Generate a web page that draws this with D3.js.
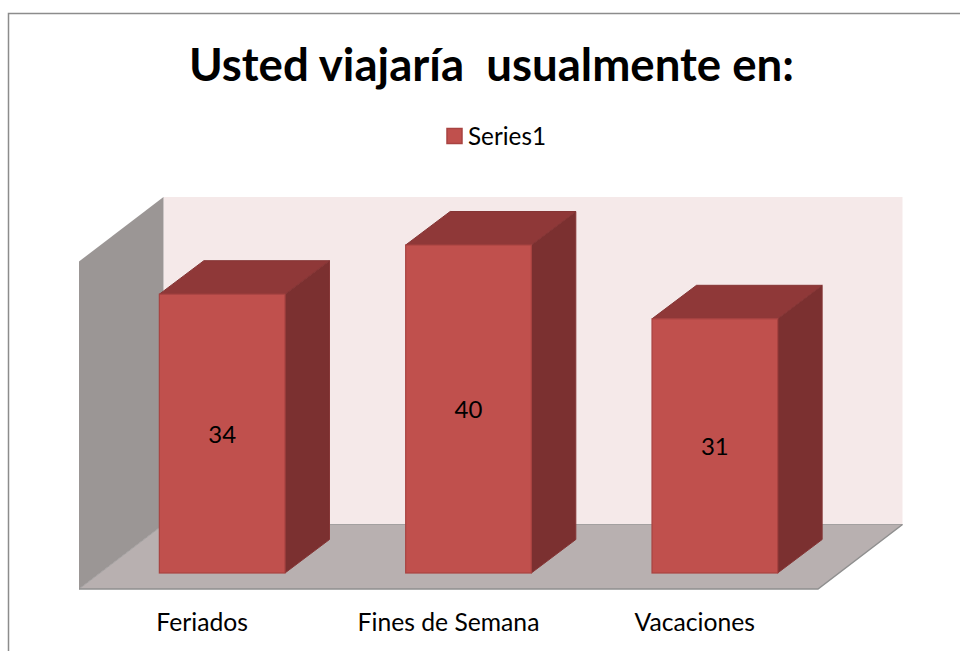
<!DOCTYPE html>
<html><head><meta charset="utf-8">
<script src="https://cdn.jsdelivr.net/npm/d3@7"></script>
<style>html,body{margin:0;padding:0;background:#fff}svg{display:block}text{font-family:Lato,"Noto Sans",sans-serif;fill:#000}</style>
</head><body><script>
const categories = ["Feriados","Fines de Semana","Vacaciones"];
const seriesName = "Series1";
const values = [34,40,31];
const titleText = "Usted viajaría  usualmente en:";

const W=960,H=651;
const svg=d3.select("body").append("svg").attr("width",W).attr("height",H);

const dx=84.5, dy=-64.5, barDx=44.5, barDy=-33.5;
const x0=79, x1=818, base=589, wallTop=197;
const axisX=d3.scaleBand().domain(categories).range([x0,x1]);
const barX=d3.scaleBand().domain(categories).range([x0+20,x1+20]).paddingInner(0.49).paddingOuter(0.245);
const bw=barX.bandwidth();
const y=d3.scaleLinear().domain([0,40]).range([573,245]);
const P=a=>a.map(p=>p.join(",")).join(" ");

// frame
svg.append("path").attr("d",`M8.5,651V13.5H960`).attr("fill","none").attr("stroke","#8c8c8c").attr("stroke-width",1.5);

// walls and floor
svg.append("polygon").attr("points",P([[x0+dx,wallTop],[x1+dx,wallTop],[x1+dx,base+dy],[x0+dx,base+dy]])).attr("fill","#f5e9e9");
svg.append("polygon").attr("points",P([[x0,wallTop-dy],[x0+dx,wallTop],[x0+dx,base+dy],[x0,base]])).attr("fill","#9b9695");
svg.append("polygon").attr("points",P([[x0,base],[x1,base],[x1+dx,base+dy],[x0+dx,base+dy]])).attr("fill","#b8b0b0");
svg.append("path").attr("d",`M${x0},${base}L${x0+dx},${base+dy}H${x1+dx}`).attr("fill","none").attr("stroke","#a3a0a0").attr("stroke-width",1);
svg.append("path").attr("d",`M${x0},${base}H${x1}L${x1+dx},${base+dy}`).attr("fill","none").attr("stroke","#8f8f8f").attr("stroke-width",1.5);

// bars
const rows=categories.map((c,i)=>({c,v:values[i]}));
const g=svg.append("g").selectAll("g").data(rows).join("g");
const L=d=>barX(d.c), R=d=>barX(d.c)+bw;
g.append("polygon").attr("points",d=>P([[R(d),y(d.v)],[R(d)+barDx,y(d.v)+barDy],[R(d)+barDx,y(0)+barDy],[R(d),y(0)]]))
 .attr("fill","#7b3030").attr("stroke","#853535").attr("stroke-width",1);
g.append("polygon").attr("points",d=>P([[L(d),y(d.v)],[L(d)+barDx,y(d.v)+barDy],[R(d)+barDx,y(d.v)+barDy],[R(d),y(d.v)]]))
 .attr("fill","#8f3838").attr("stroke","#853535").attr("stroke-width",1);
g.append("rect").attr("x",L).attr("y",d=>y(d.v)).attr("width",bw).attr("height",d=>y(0)-y(d.v))
 .attr("fill","#c0504d").attr("stroke","#a84341").attr("stroke-width",1.2);
g.append("text").attr("x",d=>L(d)+bw/2).attr("y",d=>(y(d.v)+y(0))/2+9).attr("text-anchor","middle").attr("font-size",24).text(d=>d.v);

// axis labels
svg.append("g").selectAll("text").data(categories).join("text")
 .attr("x",d=>axisX(d)+axisX.bandwidth()/2).attr("y",631).attr("text-anchor","middle").attr("font-size",24.7).text(d=>d);

// title
svg.append("text").attr("x",491.5).attr("y",81).attr("text-anchor","middle").attr("font-size",45.6).attr("font-weight",700).style("white-space","pre").text(titleText);

// legend
svg.append("rect").attr("x",447).attr("y",128.5).attr("width",15).attr("height",15).attr("fill","#c0504d").attr("stroke","#a84341").attr("stroke-width",1.5);
svg.append("text").attr("x",468).attr("y",145).attr("font-size",24.3).text(seriesName);
</script></body></html>
